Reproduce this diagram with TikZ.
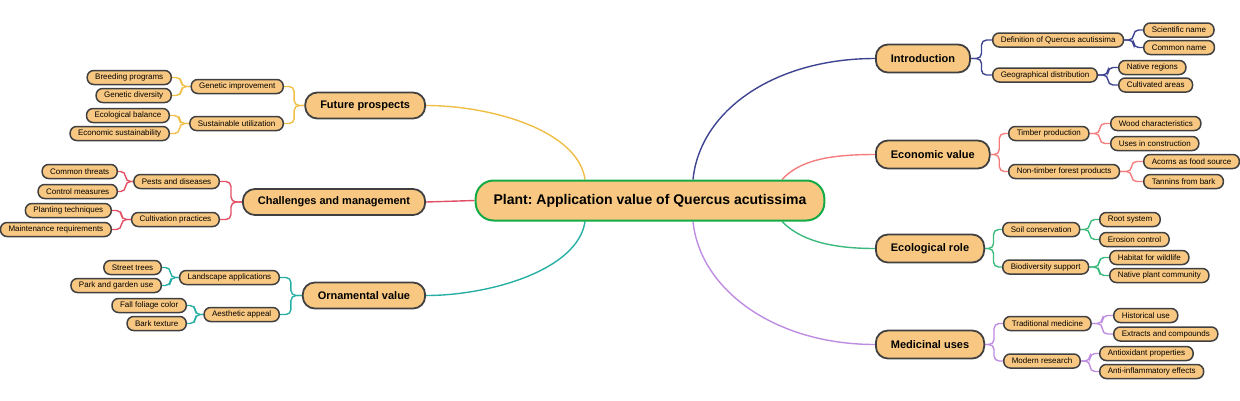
\documentclass[tikz,border=0pt]{standalone}
\usepackage{fontspec}
\setmainfont{Liberation Sans}
\usetikzlibrary{calc,backgrounds}
\definecolor{cIntro}{RGB}{62,68,145}
\definecolor{cEcon}{RGB}{245,125,125}
\definecolor{cEco}{RGB}{60,185,125}
\definecolor{cMed}{RGB}{190,140,225}
\definecolor{cFut}{RGB}{240,190,70}
\definecolor{cChal}{RGB}{225,80,100}
\definecolor{cOrn}{RGB}{40,175,165}
\definecolor{nodefill}{RGB}{248,200,130}
\definecolor{nodeborder}{RGB}{64,64,64}
\definecolor{rootgreen}{RGB}{20,170,70}
\newcommand\mmRlink[3]{\draw[link,#1] (#2.east) -- ($(#2.east)!0.5!(#2.east -| #3.west)$) |- (#3.west);}
\newcommand\mmLlink[3]{\draw[link,#1] (#2.west) -- ($(#2.west)!0.5!(#2.west -| #3.east)$) |- (#3.east);}
\frenchspacing
\begin{document}
\begin{tikzpicture}[x=1pt,y=-1pt,
  base/.style={draw=nodeborder, fill=nodefill, text=black, inner ysep=0pt},
  leaf/.style={base, line width=1.5pt, rounded corners=6.5pt, minimum height=14pt, inner xsep=8pt, font=\fontsize{8}{9}\selectfont},
  mainnode/.style={base, line width=1.8pt, rounded corners=12pt, minimum height=28pt, inner xsep=15pt, font=\fontsize{11}{13}\selectfont\bfseries},
  rootnode/.style={base, draw=rootgreen, line width=2pt, rounded corners=18pt, minimum height=40pt, inner xsep=18pt, font=\fontsize{14}{16}\selectfont\bfseries},
  link/.style={line width=1.4pt, rounded corners=5pt},
  curve/.style={line width=1.4pt}]
\useasboundingbox (0,0) rectangle (1240,400);

% root
\node[rootnode] (c) at (650,200.5) {Plant: Application value of Quercus acutissima};

% right main
\node[mainnode, anchor=west] (intro) at (875,58.5) {Introduction};
\node[mainnode, anchor=west] (econ) at (875,154.5) {Economic value};
\node[mainnode, anchor=west] (eco) at (875,248.5) {Ecological role};
\node[mainnode, anchor=west] (med) at (875,344.5) {Medicinal uses};
% left main
\node[mainnode, anchor=east, minimum height=26pt] (fut) at (426,105.5) {Future prospects};
\node[mainnode, anchor=east, minimum height=26pt] (chal) at (426,202) {Challenges and management};
\node[mainnode, anchor=east, minimum height=26pt] (orn) at (426,295.5) {Ornamental value};

% right subs
\node[leaf, anchor=west] (def) at (992,40) {Definition of Quercus acutissima};
\node[leaf, anchor=west] (geo) at (992,75) {Geographical distribution};
\node[leaf, anchor=west] (timber) at (1008,133.5) {Timber production};
\node[leaf, anchor=west] (ntfp) at (1008,171.5) {Non-timber forest products};
\node[leaf, anchor=west] (soil) at (1002,229.5) {Soil conservation};
\node[leaf, anchor=west] (bio) at (1002,267) {Biodiversity support};
\node[leaf, anchor=west] (trad) at (1003,323.5) {Traditional medicine};
\node[leaf, anchor=west] (modern) at (1003,361) {Modern research};

% right leaves
\node[leaf, anchor=west] (sci) at (1143,30) {Scientific name};
\node[leaf, anchor=west] (comm) at (1143,47.5) {Common name};
\node[leaf, anchor=west] (nat) at (1118,67.5) {Native regions};
\node[leaf, anchor=west] (cult) at (1118,85) {Cultivated areas};
\node[leaf, anchor=west] (wood) at (1110,123.5) {Wood characteristics};
\node[leaf, anchor=west] (uses) at (1110,143.5) {Uses in construction};
\node[leaf, anchor=west] (acorn) at (1143,161.5) {Acorns as food source};
\node[leaf, anchor=west] (tann) at (1143,181.5) {Tannins from bark};
\node[leaf, anchor=west] (root) at (1099,219.5) {Root system};
\node[leaf, anchor=west] (eros) at (1099,239.5) {Erosion control};
\node[leaf, anchor=west] (habi) at (1109,257.5) {Habitat for wildlife};
\node[leaf, anchor=west] (npc) at (1109,275.5) {Native plant community};
\node[leaf, anchor=west] (hist) at (1113,315.5) {Historical use};
\node[leaf, anchor=west] (extr) at (1113,334) {Extracts and compounds};
\node[leaf, anchor=west] (anti) at (1099,353.5) {Antioxidant properties};
\node[leaf, anchor=west] (infl) at (1099,371.5) {Anti-inflammatory effects};

% left subs
\node[leaf, anchor=east] (genimp) at (284,86.5) {Genetic improvement};
\node[leaf, anchor=east] (sust) at (284,123.5) {Sustainable utilization};
\node[leaf, anchor=east] (pest) at (220,181.5) {Pests and diseases};
\node[leaf, anchor=east] (cultp) at (220,219.5) {Cultivation practices};
\node[leaf, anchor=east] (land) at (280,277.5) {Landscape applications};
\node[leaf, anchor=east] (aest) at (280,314.5) {Aesthetic appeal};

% left leaves
\node[leaf, anchor=east] (breed) at (172,77.5) {Breeding programs};
\node[leaf, anchor=east] (gdiv) at (172,95.5) {Genetic diversity};
\node[leaf, anchor=east] (ecob) at (170,115.5) {Ecological balance};
\node[leaf, anchor=east] (econs) at (170,133.5) {Economic sustainability};
\node[leaf, anchor=east] (thr) at (118,171.5) {Common threats};
\node[leaf, anchor=east] (ctrl) at (118,191.5) {Control measures};
\node[leaf, anchor=east] (plant) at (112,210.5) {Planting techniques};
\node[leaf, anchor=east] (maint) at (112,229.5) {Maintenance requirements};
\node[leaf, anchor=east] (street) at (162,267.5) {Street trees};
\node[leaf, anchor=east] (park) at (162,285.5) {Park and garden use};
\node[leaf, anchor=east] (fall) at (187,305.5) {Fall foliage color};
\node[leaf, anchor=east] (bark) at (187,323.5) {Bark texture};

\begin{scope}[on background layer]
% root to main
\coordinate (sIntro) at ($(c.north)+(43,0)$);
\coordinate (sEcon) at ($(c.north)+(132,0)$);
\coordinate (sEco) at ($(c.south)+(132,0)$);
\coordinate (sMed) at ($(c.south)+(43,0)$);
\coordinate (sFut) at ($(c.north)+(-65,0)$);
\coordinate (sOrn) at ($(c.south)+(-65,0)$);
\draw[curve,cIntro] (sIntro) .. controls (700,110) and (775,58.5) .. (intro.west);
\draw[curve,cEcon] (sEcon) .. controls (800,160) and (830,154.5) .. (econ.west);
\draw[curve,cEco] (sEco) .. controls (800,240) and (830,248.5) .. (eco.west);
\draw[curve,cMed] (sMed) .. controls (700,290) and (775,344.5) .. (med.west);
\draw[curve,cFut] (sFut) .. controls (578,130) and (490,105.5) .. (fut.east);
\draw[curve,cOrn] (sOrn) .. controls (578,270) and (490,295.5) .. (orn.east);
\draw[curve,cChal] (c.west) -- (chal.east);

% right elbows
\mmRlink{cIntro}{intro}{def} \mmRlink{cIntro}{intro}{geo}
\mmRlink{cIntro}{def}{sci} \mmRlink{cIntro}{def}{comm}
\mmRlink{cIntro}{geo}{nat} \mmRlink{cIntro}{geo}{cult}
\mmRlink{cEcon}{econ}{timber} \mmRlink{cEcon}{econ}{ntfp}
\mmRlink{cEcon}{timber}{wood} \mmRlink{cEcon}{timber}{uses}
\mmRlink{cEcon}{ntfp}{acorn} \mmRlink{cEcon}{ntfp}{tann}
\mmRlink{cEco}{eco}{soil} \mmRlink{cEco}{eco}{bio}
\mmRlink{cEco}{soil}{root} \mmRlink{cEco}{soil}{eros}
\mmRlink{cEco}{bio}{habi} \mmRlink{cEco}{bio}{npc}
\mmRlink{cMed}{med}{trad} \mmRlink{cMed}{med}{modern}
\mmRlink{cMed}{trad}{hist} \mmRlink{cMed}{trad}{extr}
\mmRlink{cMed}{modern}{anti} \mmRlink{cMed}{modern}{infl}
% left elbows
\mmLlink{cFut}{fut}{genimp} \mmLlink{cFut}{fut}{sust}
\mmLlink{cFut}{genimp}{breed} \mmLlink{cFut}{genimp}{gdiv}
\mmLlink{cFut}{sust}{ecob} \mmLlink{cFut}{sust}{econs}
\mmLlink{cChal}{chal}{pest} \mmLlink{cChal}{chal}{cultp}
\mmLlink{cChal}{pest}{thr} \mmLlink{cChal}{pest}{ctrl}
\mmLlink{cChal}{cultp}{plant} \mmLlink{cChal}{cultp}{maint}
\mmLlink{cOrn}{orn}{land} \mmLlink{cOrn}{orn}{aest}
\mmLlink{cOrn}{land}{street} \mmLlink{cOrn}{land}{park}
\mmLlink{cOrn}{aest}{fall} \mmLlink{cOrn}{aest}{bark}
\end{scope}
\end{tikzpicture}
\end{document}
